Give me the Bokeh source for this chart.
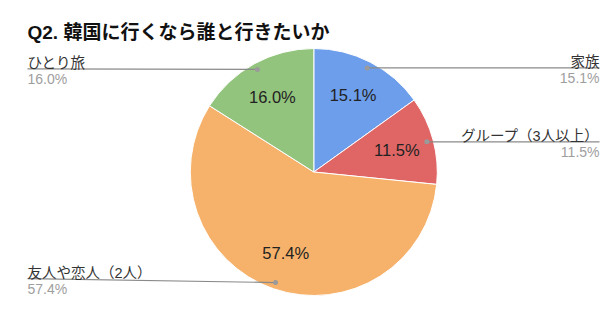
import math
from bokeh.plotting import figure
from bokeh.models import Range1d, ColumnDataSource
from bokeh.core.properties import value
from bokeh.embed import file_html
from bokeh.resources import INLINE

# ---- data ----
title = "Q2. 韓国に行くなら誰と行きたいか"
categories = ["家族", "グループ（3人以上）", "友人や恋人（2人）", "ひとり旅"]
percents = [15.1, 11.5, 57.4, 16.0]
colors = ["#6d9eeb", "#e06666", "#f6b26b", "#93c47d"]

W, H = 616, 329
CX, CY = 313.3, H - 171.5
R = 123.5
R_DOT = 117
R_IN = 86
LAT = "Liberation Sans, Noto Sans CJK JP"
JP = "Liberation Sans, Noto Sans CJK JP"

p = figure(width=W, height=H, output_backend="svg", toolbar_location=None,
           x_range=Range1d(0, W), y_range=Range1d(0, H), min_border=0)
p.axis.visible = False
p.grid.visible = False
p.outline_line_color = None
p.background_fill_color = "white"

total = sum(percents)
starts, ends, mids = [], [], []
a = math.pi / 2
for v in percents:
    span = v / total * 2 * math.pi
    starts.append(a - span)
    ends.append(a)
    mids.append(a - span / 2)
    a -= span

src = ColumnDataSource(dict(start=starts, end=ends, color=colors))
p.wedge(x=CX, y=CY, radius=R, start_angle="start", end_angle="end",
        fill_color="color", line_color="white", line_width=1, source=src)

# inner percentage labels
ix = [CX + R_IN * math.cos(m) for m in mids]
iy = [CY + R_IN * math.sin(m) for m in mids]
p.text(x=ix, y=iy, text=[f"{v:.1f}%" for v in percents], text_align="center",
       text_baseline="middle", text_font=value(LAT), text_font_size="16.5px",
       text_color="#222222")

# leader lines and outside labels
dx = [CX + R_DOT * math.cos(m) for m in mids]
dy = [CY + R_DOT * math.sin(m) for m in mids]
left_end_dy = [0, 0, 4, 0.5]
for i, cat in enumerate(categories):
    right = math.cos(mids[i]) > 0
    ex = 599 if right else 27
    ey = dy[i] + left_end_dy[i]
    p.line([dx[i], ex], [dy[i], ey], line_color="#8a8a8a", line_width=1.2)
    p.scatter([dx[i]], [dy[i]], size=5, fill_color="#9a9a9a", line_color=None)
    align = "right" if right else "left"
    p.text(x=[ex], y=[ey + 5.5], text=[cat], text_align=align,
           text_baseline="alphabetic", text_font=value(JP),
           text_font_size="14.5px", text_color="#333333")
    p.text(x=[ex], y=[ey - 2], text=[f"{percents[i]:.1f}%"], text_align=align,
           text_baseline="top", text_font=value(LAT),
           text_font_size="14px", text_color="#9e9e9e")

p.text(x=[27], y=[H - 32], text=[title], text_align="left",
       text_baseline="alphabetic", text_font=value(JP), text_font_size="19px",
       text_font_style="bold", text_color="#111111")

open("out.html", "w").write(file_html(p, INLINE))
